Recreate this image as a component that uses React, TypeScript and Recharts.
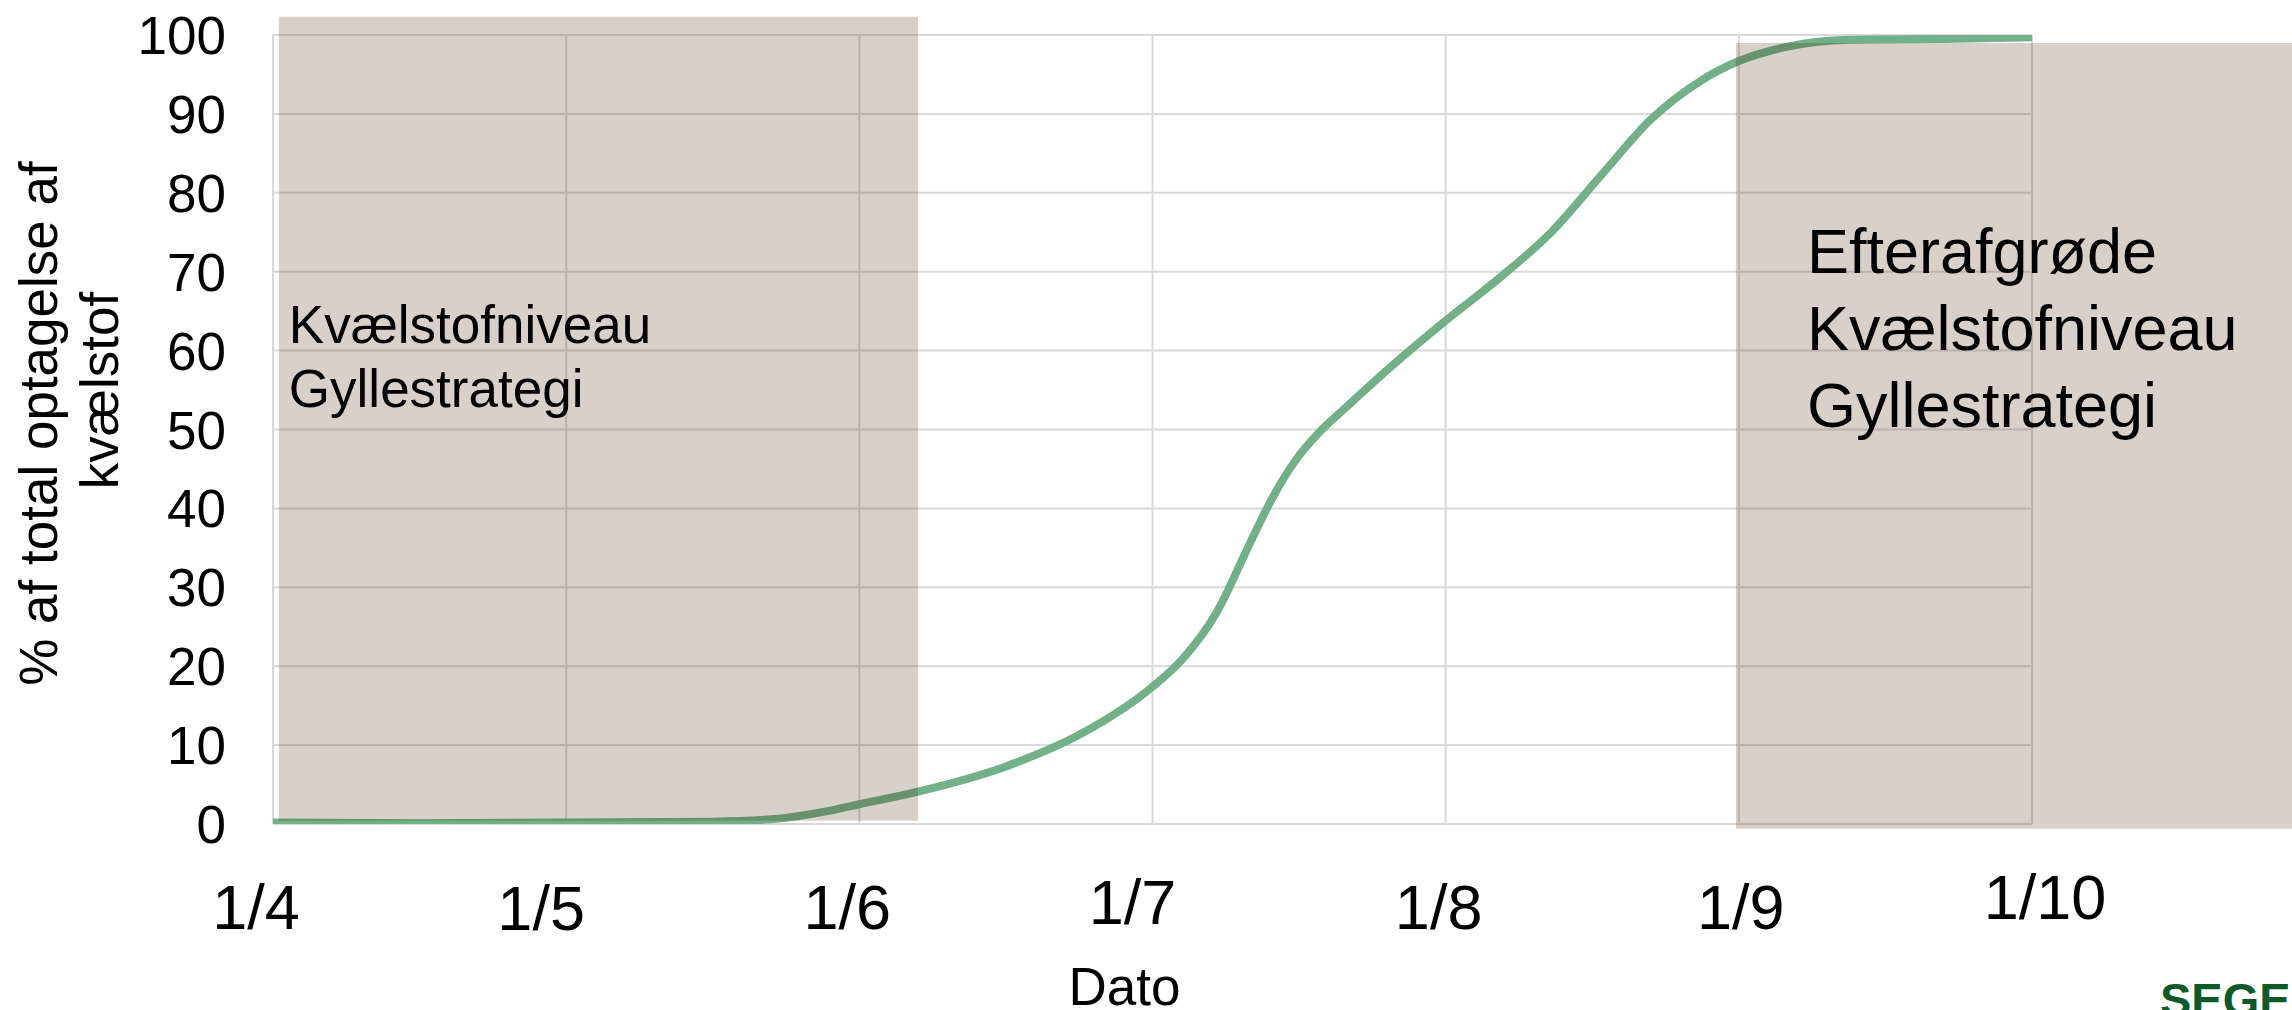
import {
  CartesianGrid,
  Line,
  LineChart,
  ReferenceArea,
  XAxis,
  YAxis,
} from "recharts";

const FONT = '"Liberation Sans", Arial, sans-serif';

// x is months after 1 April
const monthTicks = [0, 1, 2, 3, 4, 5, 6];
const monthLabels = ["1/4", "1/5", "1/6", "1/7", "1/8", "1/9", "1/10"];
const pctTicks = [0, 10, 20, 30, 40, 50, 60, 70, 80, 90, 100];

const uptakeMonth = [
  0, 0.5, 1.0, 1.5, 1.7, 1.9, 2.0, 2.2, 2.5, 2.75, 3.0, 3.1, 3.22, 3.33, 3.41,
  3.49, 3.56, 3.66, 3.79, 4.0, 4.19, 4.36, 4.53, 4.7, 4.87, 5.0, 5.15, 5.38,
  5.7, 6.0,
];
const uptakePct = [
  0.2, 0.1, 0.2, 0.3, 0.6, 1.7, 2.5, 4.1, 7.3, 11.3, 17.4, 20.8, 26.9, 35.4,
  41.4, 46.2, 49.3, 52.8, 57.2, 63.8, 69.4, 75.0, 82.2, 89.3, 94.2, 96.7, 98.4,
  99.4, 99.5, 99.7,
];

// shaded periods (month / % units)
const springPeriod = { x1: 0.02, x2: 2.2, y1: 0.4, y2: 102.3 };
const autumnPeriod = { x1: 4.99, x2: 7, y1: -0.6, y2: 99 };
const springNotes = ["Kvælstofniveau", "Gyllestrategi"];
const autumnNotes = ["Efterafgrøde", "Kvælstofniveau", "Gyllestrategi"];

const data = uptakeMonth.map((m, i) => ({ month: m, pct: uptakePct[i] }));

// the date labels were placed by hand in the original, so they wobble a bit
const tickNudge: [number, number][] = [
  [-17, 105],
  [-25, 106],
  [-12, 105],
  [-20, 100],
  [-7, 105],
  [2, 105],
  [13, 95],
];

const MonthTick = (props: any) => {
  const { x, y, payload } = props;
  const i = monthTicks.indexOf(payload.value);
  const [dx, dy] = tickNudge[i] ?? [0, 105];
  return (
    <text
      x={x + dx}
      y={y + dy}
      textAnchor="middle"
      fontSize={63}
      fontFamily={FONT}
      fill="#000"
    >
      {monthLabels[i]}
    </text>
  );
};

const PctTick = (props: any) => {
  const { x, y, payload } = props;
  return (
    <text
      x={x}
      y={y + 19}
      textAnchor="end"
      fontSize={53}
      fontFamily={FONT}
      fill="#000"
    >
      {payload.value}
    </text>
  );
};

const renderDato = ({ viewBox }: any) => (
  <text
    x={viewBox.x + viewBox.width / 2 - 28}
    y={viewBox.y + 181}
    textAnchor="middle"
    fontSize={53}
    fontFamily={FONT}
    fill="#000"
  >
    Dato
  </text>
);

const renderYTitle = ({ viewBox }: any) => {
  const cy = viewBox.y + viewBox.height / 2;
  const x1 = viewBox.x - 116;
  const x2 = viewBox.x - 55;
  return (
    <g fontSize={53} fontFamily={FONT} fill="#000">
      <text
        x={x1}
        y={cy - 6}
        textAnchor="middle"
        transform={`rotate(-90, ${x1}, ${cy - 6})`}
      >
        % af total optagelse af
      </text>
      <text
        x={x2}
        y={cy - 39}
        textAnchor="middle"
        transform={`rotate(-90, ${x2}, ${cy - 39})`}
      >
        kvælstof
      </text>
    </g>
  );
};

const notesLabel =
  (lines: string[], dx: number, dy: number, gap: number, size: number) =>
  ({ viewBox }: any) => (
    <g fontSize={size} fontFamily={FONT} fill="#000">
      {lines.map((t, i) => (
        <text key={t + i} x={viewBox.x + dx} y={viewBox.y + dy + i * gap}>
          {t}
        </text>
      ))}
    </g>
  );

export default function App() {
  return (
    <div
      style={{
        position: "absolute",
        left: 0,
        top: 0,
        width: 2292,
        height: 1010,
        background: "#fff",
        overflow: "hidden",
      }}
    >
      <LineChart
        width={2292}
        height={1010}
        data={data}
        margin={{ top: 35, right: 260, bottom: 86, left: 173 }}
      >
        <CartesianGrid stroke="#d9d9d9" strokeWidth={2} />
        <XAxis
          dataKey="month"
          type="number"
          domain={[0, 6]}
          ticks={monthTicks}
          interval={0}
          allowDataOverflow
          axisLine={false}
          tickLine={false}
          tickSize={0}
          tickMargin={0}
          height={100}
          tick={<MonthTick />}
          label={renderDato}
        />
        <YAxis
          type="number"
          domain={[0, 100]}
          ticks={pctTicks}
          interval={0}
          allowDataOverflow
          axisLine={false}
          tickLine={false}
          tickSize={0}
          tickMargin={47}
          width={100}
          tick={<PctTick />}
          label={renderYTitle}
        />
        <Line
          dataKey="pct"
          type="monotone"
          stroke="#72b08a"
          strokeWidth={8}
          dot={false}
          activeDot={false}
          isAnimationActive={false}
        />
        <ReferenceArea
          {...springPeriod}
          ifOverflow="visible"
          fill="#402807"
          fillOpacity={0.21}
          stroke="none"
          zIndex={450}
          label={notesLabel(springNotes, 10, 326, 64, 53)}
        />
        <ReferenceArea
          {...autumnPeriod}
          ifOverflow="visible"
          fill="#402807"
          fillOpacity={0.21}
          stroke="none"
          zIndex={450}
          label={notesLabel(autumnNotes, 71, 230, 77, 63)}
        />
      </LineChart>
      <svg
        width={2292}
        height={1010}
        style={{ position: "absolute", left: 0, top: 0, pointerEvents: "none" }}
      >
        <text
          x={2160}
          y={1016}
          fontSize={47}
          fontWeight="bold"
          fontFamily={FONT}
          fill="#0b5a27"
        >
          SEGES
        </text>
      </svg>
    </div>
  );
}
